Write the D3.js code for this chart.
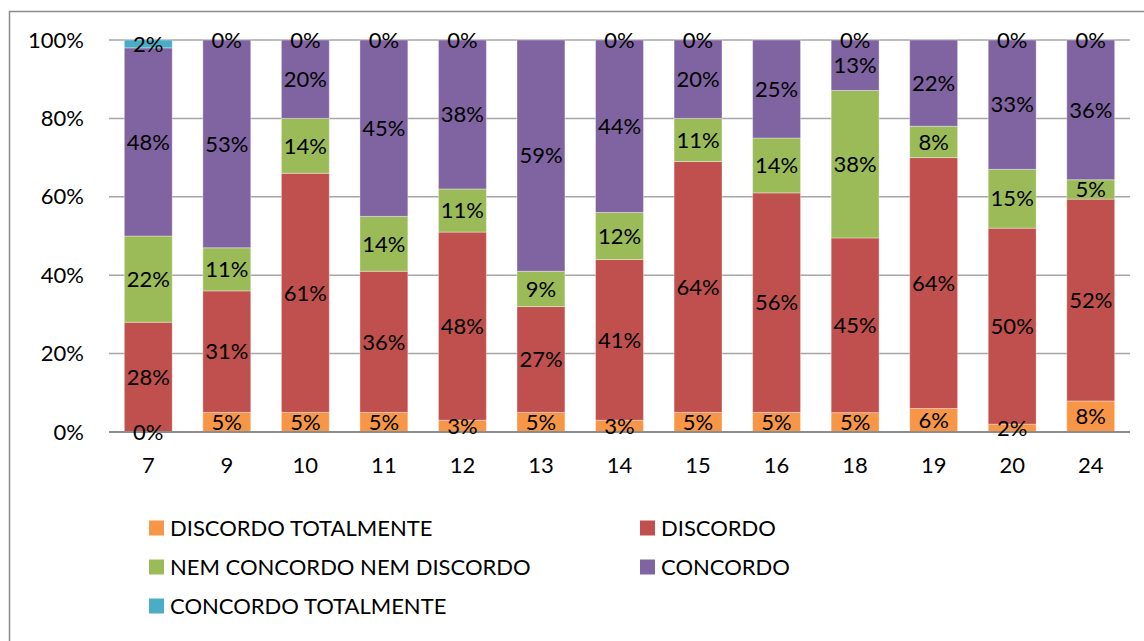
<!DOCTYPE html>
<html>
<head>
<meta charset="utf-8">
<script src="https://cdn.jsdelivr.net/npm/d3@7"></script>
<style>
  html, body { margin: 0; padding: 0; background: #fff; }
  svg { display: block; font-family: Lato, "Open Sans", sans-serif; }
</style>
</head>
<body>
<svg id="chart" width="1144" height="641"></svg>
<script>
// Question groups along the x axis
const categories = ["7", "9", "10", "11", "12", "13", "14", "15", "16", "18", "19", "20", "24"];

// Answer shares (%) per group; null where no value was given
const discordoTotalmente  = [0, 5, 5, 5, 3, 5, 3, 5, 5, 5, 6, 2, 8];
const discordo            = [28, 31, 61, 36, 48, 27, 41, 64, 56, 45, 64, 50, 52];
const nemConcordo         = [22, 11, 14, 14, 11, 9, 12, 11, 14, 38, 8, 15, 5];
const concordo            = [48, 53, 20, 45, 38, 59, 44, 20, 25, 13, 22, 33, 36];
const concordoTotalmente  = [2, 0, 0, 0, 0, null, 0, 0, null, 0, null, 0, 0];

const seriesNames = ["DISCORDO TOTALMENTE", "DISCORDO", "NEM CONCORDO NEM DISCORDO", "CONCORDO", "CONCORDO TOTALMENTE"];
const seriesColors = ["#F79646", "#C0504D", "#9BBB59", "#8064A2", "#4BACC6"];
const yTicks = [0, 0.2, 0.4, 0.6, 0.8, 1];

const FONT_SIZE = 22;

const seriesValues = [discordoTotalmente, discordo, nemConcordo, concordo, concordoTotalmente];
const keys = d3.range(seriesNames.length);
const rows = categories.map((c, i) => {
  const r = { cat: c };
  keys.forEach(k => { r[k] = seriesValues[k][i]; });
  return r;
});

const svg = d3.select("#chart");

// outer chart frame
svg.append("rect")
  .attr("x", 9.5).attr("y", 11.5)
  .attr("width", 1160).attr("height", 660)
  .attr("fill", "none").attr("stroke", "#8c8c8c").attr("stroke-width", 1.5);

const plot = { left: 109, right: 1130, top: 40, bottom: 432 };

const x = d3.scaleBand()
  .domain(categories)
  .range([plot.left, plot.right])
  .paddingInner(0.39)
  .paddingOuter(0.195);

const y = d3.scaleLinear().domain([0, 1]).range([plot.bottom, plot.top]);

// gridlines
svg.append("g")
  .selectAll("line")
  .data(yTicks.filter(t => t > 0))
  .join("line")
  .attr("x1", plot.left).attr("x2", plot.right)
  .attr("y1", d => y(d)).attr("y2", d => y(d))
  .attr("stroke", "#a6a6a6").attr("stroke-width", 1.5);

// y axis labels
const yAxis = svg.append("g")
  .attr("transform", `translate(${plot.left},0)`)
  .call(d3.axisLeft(y).tickValues(yTicks).tickFormat(d3.format(".0%")).tickSize(0).tickPadding(25));
yAxis.select(".domain").remove();
yAxis.selectAll("text").attr("font-size", FONT_SIZE).attr("fill", "#000").attr("font-family", "Lato, sans-serif");

// stacked bars, normalised to 100%
const stack = d3.stack()
  .keys(keys)
  .value((d, k) => d[k] == null ? 0 : d[k])
  .offset(d3.stackOffsetExpand);
const stacked = stack(rows);

const layers = svg.append("g")
  .selectAll("g")
  .data(stacked)
  .join("g")
  .attr("fill", (d, i) => seriesColors[i]);

layers.selectAll("rect")
  .data(d => d)
  .join("rect")
  .attr("x", d => x(d.data.cat))
  .attr("width", x.bandwidth())
  .attr("y", d => y(d[1]))
  .attr("height", d => Math.max(0, y(d[0]) - y(d[1])))
  .attr("stroke", "rgba(255,255,255,0.35)")
  .attr("stroke-width", 1);

// x axis baseline
svg.append("line")
  .attr("x1", plot.left).attr("x2", plot.right)
  .attr("y1", plot.bottom).attr("y2", plot.bottom)
  .attr("stroke", "#8c8c8c").attr("stroke-width", 2);

// x axis labels
const xAxis = svg.append("g")
  .attr("transform", `translate(0,${plot.bottom})`)
  .call(d3.axisBottom(x).tickSize(0).tickPadding(25));
xAxis.select(".domain").remove();
xAxis.selectAll("text").attr("font-size", FONT_SIZE).attr("fill", "#000").attr("font-family", "Lato, sans-serif");

// value labels centred in each segment
const labels = svg.append("g")
  .attr("font-size", FONT_SIZE)
  .attr("text-anchor", "middle")
  .attr("fill", "#000");
stacked.forEach((layer, k) => {
  labels.selectAll(null)
    .data(layer.filter(d => d.data[k] != null))
    .join("text")
    .attr("x", d => x(d.data.cat) + x.bandwidth() / 2)
    .attr("y", d => y((d[0] + d[1]) / 2))
    .attr("dy", "0.35em")
    .text(d => d.data[k] + "%");
});

// legend in two columns
const legendPos = [
  { x: 149, y: 528 }, { x: 640, y: 528 },
  { x: 149, y: 567 }, { x: 640, y: 567 },
  { x: 149, y: 606 }
];
const legend = svg.append("g")
  .selectAll("g")
  .data(seriesNames)
  .join("g")
  .attr("transform", (d, i) => `translate(${legendPos[i].x},${legendPos[i].y})`);
legend.append("rect")
  .attr("x", 0).attr("y", -7.5)
  .attr("width", 15).attr("height", 15)
  .attr("fill", (d, i) => seriesColors[i]);
legend.append("text")
  .attr("x", 21).attr("dy", "0.35em")
  .attr("font-size", FONT_SIZE)
  .attr("fill", "#000")
  .text(d => d);
</script>
</body>
</html>
